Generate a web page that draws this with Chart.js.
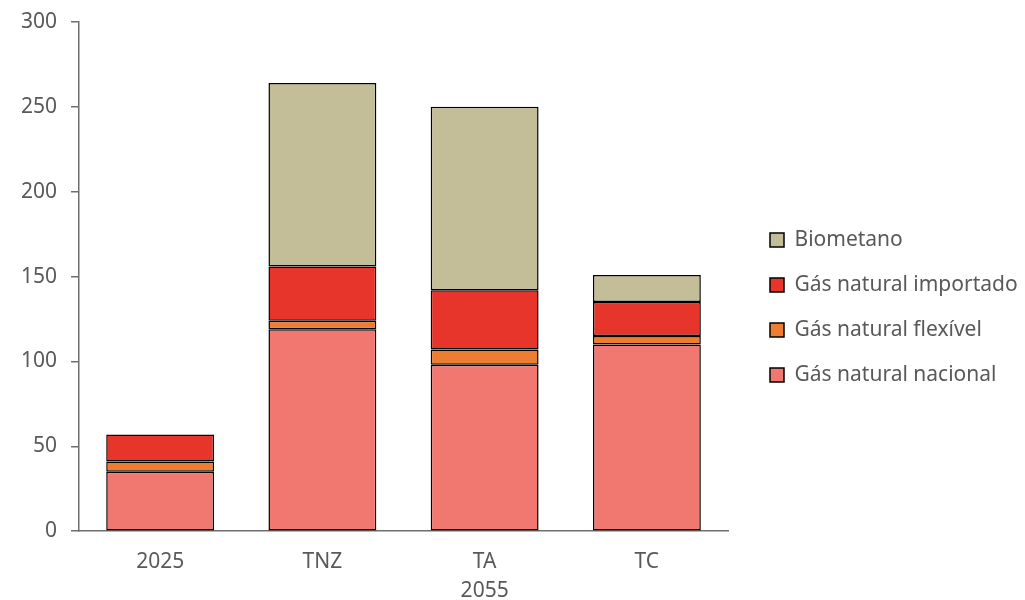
<!DOCTYPE html>
<html>
<head>
<meta charset="utf-8">
<script src="https://cdn.jsdelivr.net/npm/chart.js@4/dist/chart.umd.min.js"></script>
<style>
  html, body { margin: 0; padding: 0; background: #fff; }
  #wrap { width: 1025px; height: 600px; position: relative; }
</style>
</head>
<body>
<div id="wrap"><canvas id="chart"></canvas></div>
<script>
// ===== DADOS =====
const categories = [['2025', ''], ['TNZ', ''], ['TA', '2055'], ['TC', '']];
const gasNacional = [35, 119, 98, 110];
const gasFlexivel = [6, 5, 9, 5];
const gasImportado = [16, 32, 35, 20];
const biometano = [0, 108, 108, 16];
const yTicks = [0, 50, 100, 150, 200, 250, 300];

const textColor = '#595959';
const axisColor = '#6e6e6e';
const fontFamily = 'Noto Sans';

// ===== POSIÇÃO DA LEGENDA =====
// área do gráfico termina em x=728, legenda começa um pouco mais à direita
const legendLayout = {
  id: 'legendLayout',
  afterInit: function(chart) {
    const legend = chart.legend;
    const fit = legend.fit;
    legend.fit = function() {
      fit.call(legend);
      legend.width = 297;
    };
  },
  afterLayout: function(chart) {
    const legend = chart.legend;
    legend.left = 746;
    legend.right = 1025;
    legend.top = 0;
    legend.bottom = 615;
  },
};

function serie(label, data, color) {
  return {
    label: label,
    data: data,
    backgroundColor: color,
    borderColor: '#000000',
    borderWidth: 1.5,
    borderSkipped: false,
    categoryPercentage: 0.665,
    barPercentage: 1.0,
  };
}

new Chart(document.getElementById('chart'), {
  type: 'bar',
  data: {
    labels: categories,
    datasets: [
      serie('Gás natural nacional', gasNacional, '#F07870'),
      serie('Gás natural flexível', gasFlexivel, '#ED7D31'),
      serie('Gás natural importado', gasImportado, '#E8352B'),
      serie('Biometano', biometano, '#C4BE98'),
    ],
  },
  plugins: [legendLayout],
  options: {
    responsive: true,
    maintainAspectRatio: false,
    animation: false,
    layout: { padding: { top: 0, left: 7, right: 0, bottom: -22 } },
    plugins: {
      tooltip: { enabled: false },
      legend: {
        position: 'right',
        reverse: true,
        labels: {
          color: textColor,
          font: { family: fontFamily, size: 21 },
          boxWidth: 14,
          boxHeight: 14,
          padding: 24,
          useBorderRadius: false,
        },
      },
    },
    scales: {
      x: {
        stacked: true,
        grid: { display: false, drawTicks: false },
        border: { display: true, color: axisColor, width: 1.5 },
        ticks: {
          color: textColor,
          font: { family: fontFamily, size: 21, lineHeight: 1.4 },
          padding: 16,
          maxRotation: 0,
        },
      },
      y: {
        stacked: true,
        min: 0,
        max: 300,
        afterBuildTicks: function(axis) {
          axis.ticks = yTicks.map(function(v) { return { value: v }; });
        },
        afterFit: function(axis) {
          axis.paddingTop = 22;
        },
        grid: {
          drawOnChartArea: false,
          drawTicks: true,
          tickLength: 8,
          color: axisColor,
          lineWidth: 1.5,
        },
        border: { display: true, color: axisColor, width: 1.5 },
        ticks: {
          color: textColor,
          font: { family: fontFamily, size: 21 },
          padding: 14,
        },
      },
    },
  },
});
</script>
</body>
</html>
